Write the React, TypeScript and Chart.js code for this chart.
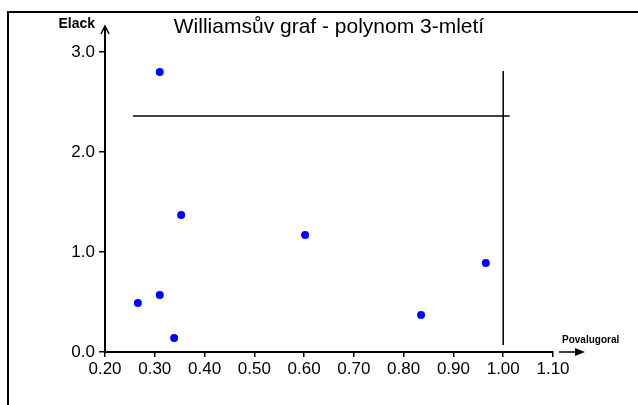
import React, { useEffect, useRef } from "react";
import { Chart, registerables } from "chart.js";

Chart.register(...registerables);

const titleText = "Williamsův graf - polynom 3-mletí";
const yAxisLabel = "Elack";
const xAxisLabel = "Povalugoral";

const pointX = [0.31, 0.353, 0.602, 0.266, 0.31, 0.339, 0.835, 0.965];
const pointY = [2.8, 1.37, 1.17, 0.49, 0.57, 0.14, 0.37, 0.89];

const hLineX = [0.256, 1.013];
const hLineY = [2.36, 2.36];
const vLineX = [1.0, 1.0];
const vLineY = [2.81, 0.07];

const xTicksMin = 0.2;
const xTicksMax = 1.1;
const xStep = 0.1;
const yTicksMin = 0;
const yTicksMax = 3;
const yStep = 1;

const FONT = "Arial, 'Liberation Sans', sans-serif";

const decorPlugin = {
  id: "decor",
  afterDraw(chart: any) {
    const ctx = chart.ctx as CanvasRenderingContext2D;
    const area = chart.chartArea;
    const xs = chart.scales.x;
    const ys = chart.scales.y;
    ctx.save();
    // frame
    ctx.strokeStyle = "#000";
    ctx.lineWidth = 2;
    ctx.beginPath();
    ctx.moveTo(8, 405);
    ctx.lineTo(8, 12);
    ctx.lineTo(638, 12);
    ctx.stroke();

    // y axis extension and arrow
    const ax = xs.getPixelForValue(xTicksMin);
    const yTop = ys.getPixelForValue(yTicksMax);
    ctx.lineWidth = 2;
    ctx.beginPath();
    ctx.moveTo(ax, yTop);
    ctx.lineTo(ax, yTop - 25);
    ctx.stroke();
    ctx.lineWidth = 1.5;
    ctx.beginPath();
    ctx.moveTo(ax - 4, yTop - 18);
    ctx.lineTo(ax, yTop - 26);
    ctx.lineTo(ax + 4, yTop - 18);
    ctx.stroke();

    // x axis arrow
    const ay = ys.getPixelForValue(yTicksMin);
    const xr = xs.getPixelForValue(xTicksMax);
    ctx.lineWidth = 1.5;
    ctx.beginPath();
    ctx.moveTo(xr + 6, ay);
    ctx.lineTo(xr + 26, ay);
    ctx.stroke();
    ctx.fillStyle = "#000";
    ctx.beginPath();
    ctx.moveTo(xr + 32, ay);
    ctx.lineTo(xr + 22, ay - 4);
    ctx.lineTo(xr + 22, ay + 4);
    ctx.closePath();
    ctx.fill();

    // texts
    ctx.fillStyle = "#000";
    ctx.textBaseline = "middle";
    ctx.textAlign = "center";
    ctx.font = `21px ${FONT}`;
    ctx.fillText(titleText, (area.left + area.right) / 2, 27);

    ctx.font = `bold 14px ${FONT}`;
    ctx.textAlign = "right";
    ctx.fillText(yAxisLabel, ax - 10, 24);

    ctx.font = `bold 10px ${FONT}`;
    ctx.textAlign = "left";
    ctx.fillText(xAxisLabel, xr + 9, ay - 12);
    ctx.restore();
  },
};

export default function App() {
  const ref = useRef<HTMLCanvasElement>(null);
  useEffect(() => {
    document.body.style.margin = "0";
    const chart = new Chart(ref.current!, {
      type: "scatter",
      data: {
        datasets: [
          {
            data: pointX.map((x, i) => ({ x, y: pointY[i] })),
            backgroundColor: "#0000ff",
            borderWidth: 0,
            pointRadius: 4,
          },
          {
            data: hLineX.map((x, i) => ({ x, y: hLineY[i] })),
            showLine: true,
            borderColor: "#000",
            borderWidth: 1.5,
            pointRadius: 0,
          },
          {
            data: vLineX.map((x, i) => ({ x, y: vLineY[i] })),
            showLine: true,
            borderColor: "#000",
            borderWidth: 1.5,
            pointRadius: 0,
          },
        ],
      },
      options: {
        animation: false,
        responsive: false,
        devicePixelRatio: 1,
        layout: { padding: { left: 0, top: 52, right: 85, bottom: 0 } },
        plugins: { legend: { display: false }, tooltip: { enabled: false } },
        scales: {
          x: {
            type: "linear",
            min: xTicksMin,
            max: xTicksMax,
            afterFit: (s: any) => {
              s.height = 53;
            },
            ticks: {
              stepSize: xStep,
              color: "#000",
              font: { family: FONT, size: 17 },
              padding: 2,
              maxRotation: 0,
              autoSkip: false,
              callback: (v: any) => Number(v).toFixed(2),
            },
            grid: {
              drawOnChartArea: false,
              drawTicks: true,
              tickLength: 5,
              color: "#000",
              lineWidth: 1.5,
            },
            border: { display: true, color: "#000", width: 2 },
          },
          y: {
            type: "linear",
            min: yTicksMin,
            max: yTicksMax,
            afterFit: (s: any) => {
              s.width = 105;
            },
            ticks: {
              stepSize: yStep,
              color: "#000",
              font: { family: FONT, size: 17 },
              padding: 4,
              callback: (v: any) => Number(v).toFixed(1),
            },
            grid: {
              drawOnChartArea: false,
              drawTicks: true,
              tickLength: 6,
              color: "#000",
              lineWidth: 1.5,
            },
            border: { display: true, color: "#000", width: 2 },
          },
        },
      },
      plugins: [decorPlugin],
    });
    return () => chart.destroy();
  }, []);
  return (
    <div style={{ width: 638, height: 405, background: "#fff" }}>
      <canvas ref={ref} width={638} height={405} />
    </div>
  );
}
